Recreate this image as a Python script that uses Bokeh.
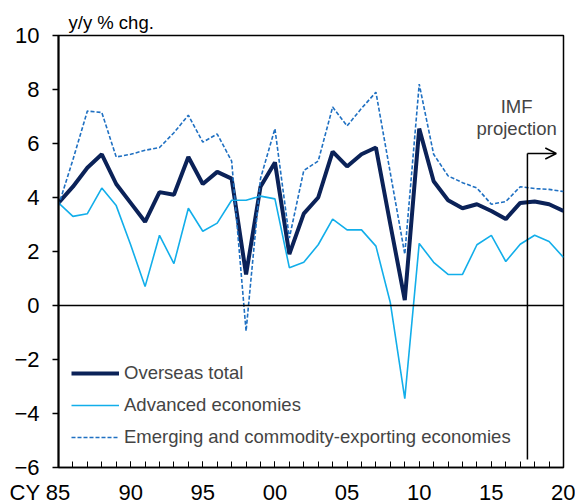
from bokeh.plotting import figure
from bokeh.models import (Range1d, FixedTicker, Span, Label, Legend, LegendItem,
                          Arrow, OpenHead, ColumnDataSource)
from bokeh.embed import file_html
from bokeh.resources import INLINE

years = list(range(1985, 2021))
overseas_total = [3.8, 4.4, 5.1, 5.6, 4.5, 3.8, 3.1, 4.2, 4.1, 5.5,
                  4.5, 4.95, 4.7, 1.15, 4.4, 5.3, 1.9, 3.4, 4.0, 5.7,
                  5.15, 5.6, 5.85, 3.0, 0.2, 6.55, 4.6, 3.9, 3.6, 3.75,
                  3.5, 3.2, 3.8, 3.85, 3.75, 3.5]
advanced = [3.8, 3.3, 3.4, 4.35, 3.7, 2.25, 0.7, 2.6, 1.55, 3.6,
            2.75, 3.05, 3.9, 3.9, 4.05, 3.95, 1.4, 1.6, 2.25, 3.2,
            2.8, 2.8, 2.2, 0.1, -3.45, 2.3, 1.6, 1.15, 1.15, 2.25,
            2.6, 1.63, 2.27, 2.6, 2.37, 1.78]
emerging = [3.7, 5.4, 7.2, 7.15, 5.5, 5.6, 5.75, 5.85, 6.4, 7.05,
            6.05, 6.35, 5.35, -0.95, 4.7, 6.55, 2.5, 5.0, 5.35, 7.35,
            6.65, 7.3, 7.9, 4.9, 1.9, 8.2, 5.6, 4.8, 4.55, 4.35,
            3.75, 3.85, 4.4, 4.33, 4.3, 4.22]
series_names = ["Overseas total", "Advanced economies",
                "Emerging and commodity-exporting economies"]
y_ticks = [-6, -4, -2, 0, 2, 4, 6, 8, 10]
x_major = [1985, 1990, 1995, 2000, 2005, 2010, 2015, 2020]
# first label padded with figure spaces so that "85" sits on its tick
x_labels = ["CY 85\u2007\u2007\u2007", "90", "95", "00", "05", "10", "15", "20"]
unit_label = "y/y % chg."
proj_start = 2017.5
proj_arrow_end = 2019.5
proj_level = 5.63
proj_bottom = -5.7

FONT = "Liberation Sans"
NAVY = "#0b2258"
CYAN = "#12aeea"
BLUE = "#1f70c2"

src = ColumnDataSource(dict(x=years, tot=overseas_total, adv=advanced, emg=emerging))

p = figure(width=575, height=504, output_backend="svg", toolbar_location=None,
           x_range=Range1d(1985, 2020), y_range=Range1d(-6, 10),
           min_border_left=58, min_border_right=12, min_border_top=35,
           min_border_bottom=37)
p.frame_width = 505
p.frame_height = 432
p.grid.visible = False
p.outline_line_color = "black"
p.outline_line_width = 1.5
p.background_fill_color = "white"
p.border_fill_color = "white"

p.title.text = unit_label
p.title.align = "left"
p.title.offset = 10
p.title.standoff = 6
p.title.text_font = FONT
p.title.text_font_size = "18.5px"
p.title.text_font_style = "normal"
p.title.text_color = "black"

# axes
ya = p.yaxis[0]
ya.ticker = FixedTicker(ticks=y_ticks)
ya.major_tick_out = 6
ya.major_tick_in = 0
ya.minor_tick_out = 0
ya.minor_tick_in = 0
ya.axis_line_width = 2
ya.major_tick_line_width = 1.5
ya.major_label_standoff = 13
ya.major_label_text_font = FONT
ya.major_label_text_font_size = "22px"
ya.major_label_text_color = "black"

xa = p.xaxis[0]
xa.ticker = FixedTicker(ticks=x_major, minor_ticks=years)
xa.major_tick_in = 6
xa.major_tick_out = 0
xa.minor_tick_in = 6
xa.minor_tick_out = 0
xa.axis_line_width = 1.5
xa.major_tick_line_width = 1
xa.minor_tick_line_width = 1
xa.major_label_standoff = 12
xa.major_label_overrides = {y: l for y, l in zip(x_major, x_labels)}
xa.major_label_text_font = FONT
xa.major_label_text_font_size = "22px"
xa.major_label_text_color = "black"

p.add_layout(Span(location=0, dimension="width", line_color="black", line_width=1.5))

r_tot = p.line("x", "tot", source=src, line_color=NAVY, line_width=4, line_join="bevel")
r_adv = p.line("x", "adv", source=src, line_color=CYAN, line_width=1.6)
r_emg = p.line("x", "emg", source=src, line_color=BLUE, line_width=1.6, line_dash="4 2")

# projection marker
p.segment(x0=[proj_start], y0=[proj_bottom], x1=[proj_start], y1=[proj_level],
          line_color="black", line_width=1.5)
p.add_layout(Arrow(x_start=proj_start, y_start=proj_level, x_end=proj_arrow_end,
                   y_end=proj_level, line_color="black", line_width=1.5,
                   end=OpenHead(size=11, line_color="black", line_width=1.5)))
p.add_layout(Label(x=2016.75, y=7.37, text="IMF", text_align="center",
                   text_baseline="middle", text_font=FONT, text_font_size="18.5px"))
p.add_layout(Label(x=2016.75, y=6.55, text="projection", text_align="center",
                   text_baseline="middle", text_font=FONT, text_font_size="18.5px"))

legend = Legend(items=[LegendItem(label=series_names[0], renderers=[r_tot]),
                       LegendItem(label=series_names[1], renderers=[r_adv]),
                       LegendItem(label=series_names[2], renderers=[r_emg])],
                location=(13, 19), padding=0, margin=0, spacing=10,
                glyph_width=48, glyph_height=20, label_height=20, label_standoff=5,
                label_text_font=FONT, label_text_font_size="18.5px",
                border_line_alpha=0, background_fill_alpha=0)
p.add_layout(legend)

open("out.html", "w").write(file_html(p, INLINE))
